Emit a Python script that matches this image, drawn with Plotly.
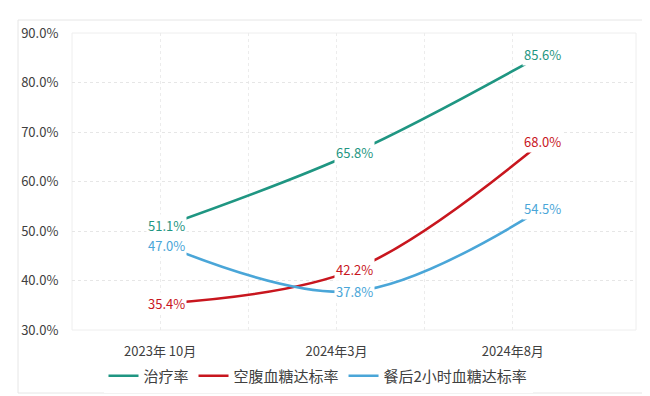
import plotly.graph_objects as go

categories = ["2023年 10月", "2024年3月", "2024年8月"]
series_names = ["治疗率", "空腹血糖达标率", "餐后2小时血糖达标率"]
treat_rate = [51.1, 65.8, 85.6]
fasting_rate = [35.4, 42.2, 68.0]
post2h_rate = [47.0, 37.8, 54.5]
y_ticks = [30, 40, 50, 60, 70, 80, 90]

colors = ["#1f9682", "#c8161e", "#4aa6d8"]
series_values = [treat_rate, fasting_rate, post2h_rate]
idx = list(range(len(categories)))

font_cjk = "Noto Sans CJK SC, Microsoft YaHei, sans-serif"

fig = go.Figure()

# transparent carrier trace so the category tick axis (x) is drawn
fig.add_trace(go.Scatter(
    x=idx, y=treat_rate, xaxis="x", yaxis="y", mode="markers",
    marker=dict(opacity=0, size=1), showlegend=False, hoverinfo="skip",
))

for name, vals, col in zip(series_names, series_values, colors):
    fig.add_trace(go.Scatter(
        x=idx, y=vals, name=name, mode="lines", xaxis="x2", yaxis="y",
        line=dict(color=col, width=2.6, shape="spline", smoothing=1.0),
    ))

annotations = []
for vals, col in zip(series_values, colors):
    for i, v in zip(idx, vals):
        annotations.append(dict(
            x=i, y=v, xref="x2", yref="y", text=f"{v:.1f}%",
            showarrow=False, bgcolor="white", borderpad=1,
            font=dict(family=font_cjk, size=13, color=col),
        ))

pw, ph = 564, 297
def px_x(p):
    return (p - 64) / pw
def px_y(p):
    return (322 - p) / ph

fig.add_shape(type="rect", xref="paper", yref="paper",
              x0=px_x(10), x1=px_x(641), y0=px_y(385), y1=px_y(12),
              line=dict(color="#e6e6e6", width=1), layer="below")
fig.add_shape(type="rect", xref="paper", yref="paper",
              x0=0, x1=1, y0=0, y1=1,
              line=dict(color="#eeeeee", width=1), layer="below")

fig.update_layout(
    width=650, height=396,
    margin=dict(l=64, r=22, t=25, b=74),
    paper_bgcolor="white", plot_bgcolor="rgba(0,0,0,0)",
    font=dict(family=font_cjk, color="#404040"),
    showlegend=True,
    legend=dict(orientation="h", x=px_x(310), xanchor="center",
                y=px_y(368), yanchor="middle",
                font=dict(family=font_cjk, size=15, color="#404040"),
                traceorder="normal"),
    xaxis=dict(range=[-0.5, 2.5], domain=[0, 529 / 564], anchor="y",
               tickvals=idx, ticktext=categories,
               showgrid=True, gridcolor="#ececec", griddash="dot",
               minor=dict(tickvals=[-0.5, 0.5, 1.5, 2.5], showgrid=True,
                          gridcolor="#ececec", griddash="dot"),
               ticks="", showline=False, zeroline=False,
               ticklabelstandoff=12,
               tickfont=dict(family=font_cjk, size=13, color="#404040")),
    xaxis2=dict(range=[-0.5, 2.5], domain=[0, 1], anchor="y",
                showticklabels=False, showgrid=False, zeroline=False,
                showline=False, ticks=""),
    yaxis=dict(range=[30, 90], tickvals=y_ticks,
               ticktext=[f"{t:.1f}%" for t in y_ticks],
               showgrid=True, gridcolor="#e6e6e6", griddash="dot",
               zeroline=False, showline=False,
               ticks="outside", ticklen=10, tickcolor="rgba(0,0,0,0)",
               tickfont=dict(family=font_cjk, size=13, color="#404040")),
    annotations=annotations,
)

fig.write_html("out.html")
